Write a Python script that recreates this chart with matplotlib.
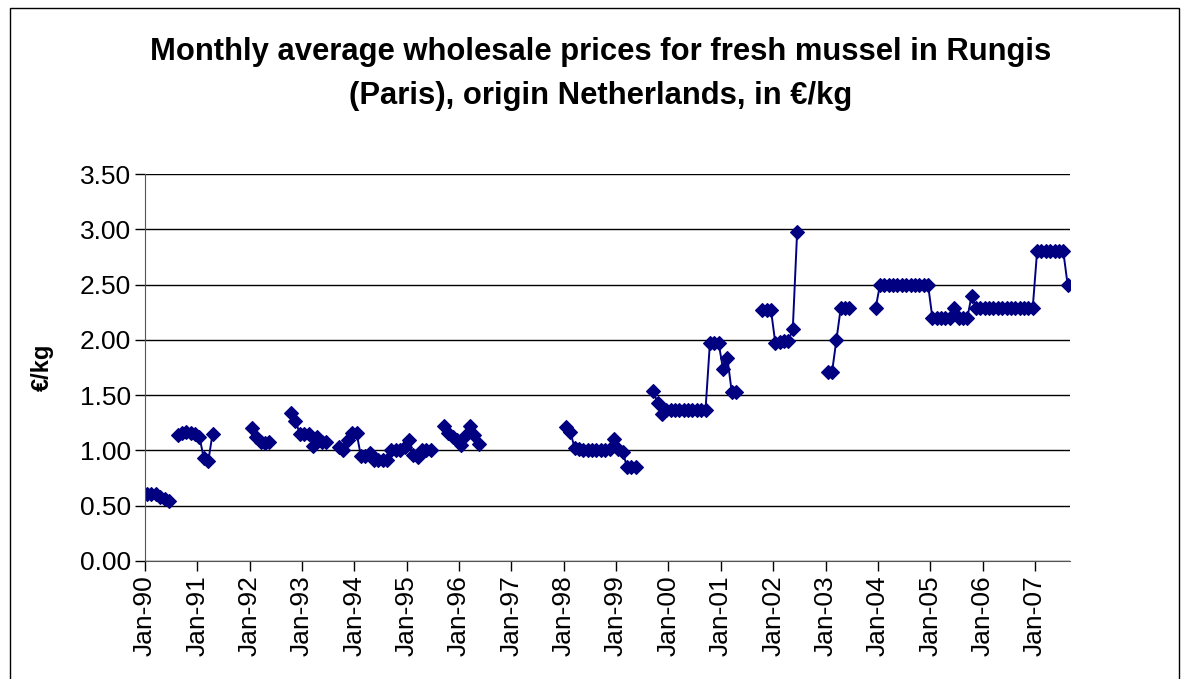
import numpy as np
import matplotlib.pyplot as plt
from matplotlib.patches import Rectangle

nan = np.nan

# monthly prices, Jan..Dec, gaps where no quote
p1990 = [0.61, 0.61, 0.61, 0.58, 0.56, 0.54, nan, 1.14, 1.16, 1.17, 1.16, 1.15]
p1991 = [1.12, 0.93, 0.90, 1.15, nan, nan, nan, nan, nan, nan, nan, nan]
p1992 = [1.20, 1.12, 1.08, 1.07, 1.08, nan, nan, nan, nan, 1.34, 1.27, 1.15]
p1993 = [1.15, 1.15, 1.04, 1.12, 1.08, 1.08, nan, nan, 1.03, 1.00, 1.09, 1.16]
p1994 = [1.16, 0.95, 0.95, 0.98, 0.91, 0.91, 0.91, 0.91, 1.00, 1.00, 1.00, 1.03]
p1995 = [1.09, 0.96, 0.94, 1.00, 1.00, 1.00, nan, nan, 1.22, 1.16, 1.12, 1.09]
p1996 = [1.05, 1.14, 1.22, 1.14, 1.06, nan, nan, nan, nan, nan, nan, nan]
p1997 = [nan] * 12
p1998 = [1.21, 1.17, 1.02, 1.01, 1.00, 1.00, 1.00, 1.00, 1.00, 1.00, 1.01, 1.10]
p1999 = [1.01, 0.99, 0.85, 0.85, 0.85, nan, nan, nan, 1.54, 1.43, 1.33, 1.37]
p2000 = [1.37, 1.37, 1.37, 1.37, 1.37, 1.37, 1.37, 1.37, 1.37, 1.97, 1.97, 1.97]
p2001 = [1.74, 1.84, 1.53, 1.53, nan, nan, nan, nan, nan, 2.27, 2.27, 2.27]
p2002 = [1.97, 1.98, 1.99, 1.99, 2.10, 2.98, nan, nan, nan, nan, nan, nan]
p2003 = [1.71, 1.71, 2.00, 2.29, 2.29, 2.29, nan, nan, nan, nan, nan, 2.29]
p2004 = [2.50, 2.50, 2.50, 2.50, 2.50, 2.50, 2.50, 2.50, 2.50, 2.50, 2.50, 2.50]
p2005 = [2.20, 2.20, 2.20, 2.20, 2.20, 2.29, 2.20, 2.20, 2.20, 2.40, 2.29, 2.29]
p2006 = [2.29, 2.29, 2.29, 2.29, 2.29, 2.29, 2.29, 2.29, 2.29, 2.29, 2.29, 2.29]
p2007 = [2.80, 2.80, 2.80, 2.80, 2.80, 2.80, 2.80, 2.50]

years = list(range(1990, 2008))
tick_labels = ['Jan-%02d' % (y % 100) for y in years]

prices = np.array(p1990 + p1991 + p1992 + p1993 + p1994 + p1995 + p1996 + p1997 +
                  p1998 + p1999 + p2000 + p2001 + p2002 + p2003 + p2004 + p2005 +
                  p2006 + p2007)
months = np.arange(len(prices)) + 0.5

fig = plt.figure(figsize=(11.9, 6.79), dpi=100)
ax = fig.add_axes([0.1218, 0.1738, 0.899 - 0.1218, 0.7437 - 0.1738])

ax.plot(months, prices, color='#000080', lw=1.4, marker='D', ms=7.6,
        mfc='#000080', mec='#000080', mew=0.8)

ax.set_xlim(0, len(prices))
ax.set_ylim(0, 3.5)
ax.set_yticks(np.arange(0, 3.51, 0.5))
ax.set_yticklabels(['%.2f' % v for v in np.arange(0, 3.51, 0.5)],
                   fontsize=19, family='Liberation Sans')
ax.set_xticks(np.arange(0, len(prices), 12))
ax.set_xticklabels(tick_labels, rotation=90, fontsize=19, family='Liberation Sans')
ax.tick_params(axis='both', direction='out', length=7, width=1, color='black')
ax.tick_params(axis='y', pad=3)
ax.tick_params(axis='x', pad=3)

ax.grid(axis='y', color='black', lw=1)
ax.set_axisbelow(True)
for s in ['top', 'right']:
    ax.spines[s].set_visible(False)
ax.spines['left'].set_color('#555555')
ax.spines['bottom'].set_color('#555555')

ax.set_ylabel('€/kg', fontsize=17, fontweight='bold', family='Liberation Sans', labelpad=19)

fig.text(0.505, 0.891, 'Monthly average wholesale prices for fresh mussel in Rungis\n'
         '(Paris), origin Netherlands, in €/kg',
         ha='center', va='center', fontsize=22.3, fontweight='bold',
         family='Liberation Sans', linespacing=1.6)

fig.patches.append(Rectangle((10 / 1190, -0.05), (1179 - 10) / 1190, 1.05 - 8 / 679,
                             transform=fig.transFigure, fill=False, ec='black', lw=1))

fig.savefig('out.png', dpi=100)
